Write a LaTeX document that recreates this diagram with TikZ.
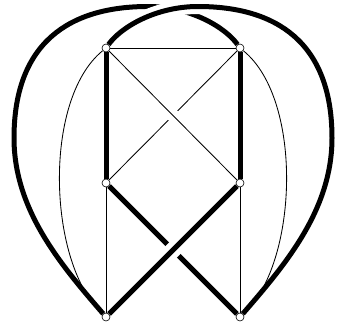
\documentclass[tikz,border=0pt]{standalone}
\usetikzlibrary{backgrounds}
\begin{document}
\begin{tikzpicture}[x=1pt,y=-1pt,
  vtx/.style={circle,draw,fill=white,inner sep=0pt,minimum size=8pt,line width=0.6pt},
  thinedge/.style={line width=0.85pt},
  thickedge/.style={line width=5pt},
  halo/.style={draw=white,line width=#1}]
\useasboundingbox (0,0) rectangle (340,325);
\node[vtx] (tl) at (106,48) {};
\node[vtx] (tr) at (240,48) {};
\node[vtx] (ml) at (106,183) {};
\node[vtx] (mr) at (240,183) {};
\node[vtx] (bl) at (106,317) {};
\node[vtx] (br) at (240,317) {};
\begin{pgfonlayer}{background}
% under strands
\draw[thinedge] (tr) -- (ml);
\draw[thickedge] (ml) -- (br);
\draw[thickedge] (bl) .. controls (61,265) and (14,210) .. (14,138)
  .. controls (14,42) and (70,6.5) .. (148,6.5)
  .. controls (190,6.5) and (225,27) .. (tr);
% halos of over strands
\begin{scope}
  \clip (173,115.5) circle (20);
  \draw[halo=13pt] (tl) -- (mr);
\end{scope}
\begin{scope}
  \clip (173,250) circle (25);
  \draw[halo=16pt] (mr) -- (bl);
\end{scope}
\begin{scope}
  \clip (145,-10) rectangle (200,30);
  \draw[halo=15pt] (br) .. controls (285,265) and (332,210) .. (332,138)
    .. controls (332,42) and (276,6.5) .. (198,6.5)
    .. controls (156,6.5) and (121,27) .. (tl);
\end{scope}
% over strands
\draw[thinedge] (tl) -- (mr);
\draw[thickedge] (mr) -- (bl);
\draw[thickedge] (br) .. controls (285,265) and (332,210) .. (332,138)
  .. controls (332,42) and (276,6.5) .. (198,6.5)
  .. controls (156,6.5) and (121,27) .. (tl);
% other edges
\draw[thinedge] (tl) -- (tr);
\draw[thickedge] (tl) -- (ml);
\draw[thickedge] (tr) -- (mr);
\draw[thinedge] (ml) -- (bl);
\draw[thinedge] (mr) -- (br);
\draw[thinedge] (tl) .. controls (42,100) and (48,265) .. (bl);
\draw[thinedge] (tr) .. controls (304,100) and (298,265) .. (br);
\end{pgfonlayer}
\end{tikzpicture}
\end{document}
